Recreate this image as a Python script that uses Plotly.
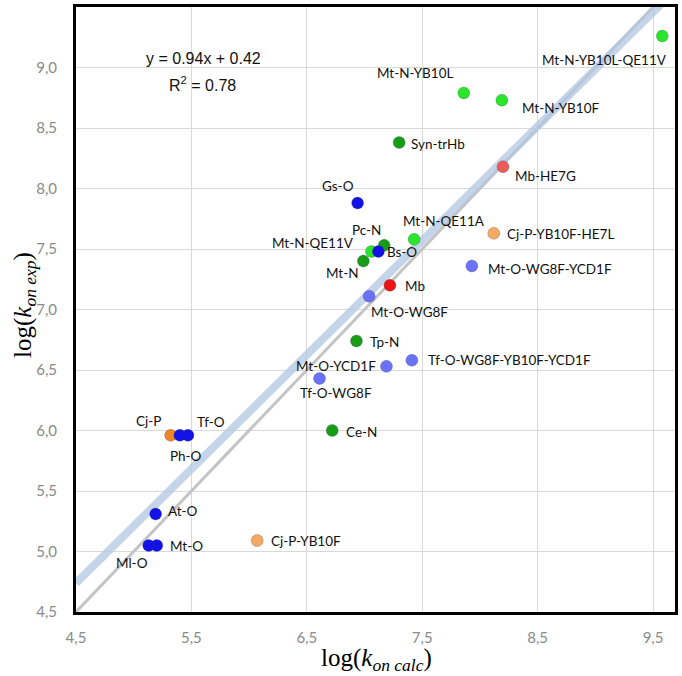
import plotly.graph_objects as go

# ---- data ----
names = ["Mt-N-YB10L-QE11V", "Mt-N-YB10L", "Mt-N-YB10F", "Syn-trHb", "Mb-HE7G",
         "Gs-O", "Mt-N-QE11A", "Cj-P-YB10F-HE7L", "Pc-N", "Mt-N-QE11V", "Bs-O",
         "Mt-N", "Mt-O-WG8F-YCD1F", "Mb", "Mt-O-WG8F", "Tp-N",
         "Tf-O-WG8F-YB10F-YCD1F", "Mt-O-YCD1F", "Tf-O-WG8F", "Ce-N", "Cj-P",
         "Tf-O", "Ph-O", "At-O", "Mt-O", "Ml-O", "Cj-P-YB10F"]
log_kon_calc = [9.58, 7.86, 8.19, 7.30, 8.20,
                6.94, 7.43, 8.12, 7.17, 7.06, 7.12,
                6.99, 7.93, 7.22, 7.04, 6.93,
                7.41, 7.19, 6.61, 6.72, 5.32,
                5.47, 5.40, 5.19, 5.20, 5.13, 6.07]
log_kon_exp = [9.26, 8.79, 8.73, 8.38, 8.18,
               7.88, 7.58, 7.63, 7.53, 7.48, 7.48,
               7.40, 7.36, 7.20, 7.11, 6.74,
               6.58, 6.53, 6.43, 6.00, 5.96,
               5.96, 5.96, 5.31, 5.05, 5.05, 5.09]
groups = ["N-mut", "N-mut", "N-mut", "N", "Mb-mut",
          "O", "N-mut", "P-mut", "N", "N-mut", "O",
          "N", "O-mut", "Mb", "O-mut", "N",
          "O-mut", "O-mut", "O-mut", "N", "P",
          "O", "O", "O", "O", "O", "P-mut"]

trend_slope = 0.944
trend_intercept = 0.49
eq_text = "y = 0.94x + 0.42"
r2_text = "R<sup>2</sup> = 0.78"
x_title = "log(<i>k</i><sub><i>on calc</i></sub>)"
y_title = "log(<i>k</i><sub><i>on exp</i></sub>)"

x_ticks = [4.5, 5.5, 6.5, 7.5, 8.5, 9.5]
x_ticktext = ["4,5", "5,5", "6,5", "7,5", "8,5", "9,5"]
y_ticks = [4.5, 5.0, 5.5, 6.0, 6.5, 7.0, 7.5, 8.0, 8.5, 9.0, 9.5]
y_ticktext = ["4,5", "5,0", "5,5", "6,0", "6,5", "7,0", "7,5", "8,0", "8,5", "9,0", "9,5"]

# ---- styles ----
group_colors = {
    "O": "#1212e6", "O-mut": "#6a72f6",
    "N": "#179c17", "N-mut": "#2ae62a",
    "Mb": "#ee1414", "Mb-mut": "#ef5a5a",
    "P": "#f08526", "P-mut": "#f5aa62",
}
# (xanchor, dx px, dy px screen-down) for each label
label_style = [
    ("center", -58, 24), ("center", -49, -20), ("left", 18, 8), ("left", 10, 1), ("left", 10, 9),
    ("center", -20, -17), ("center", 30, -18), ("left", 11, 1), ("center", -18, -15), ("right", -15, -8), ("left", 7, 1),
    ("center", -21, 12), ("left", 14, 3), ("left", 13, 1), ("center", 40, 16), ("left", 12, 1),
    ("left", 14, 0), ("right", -8, 0), ("center", 16, 15), ("left", 12, 1), ("center", -22, -14),
    ("center", 23, -13), ("center", 6, 21), ("left", 10, -3), ("left", 11, 1), ("center", -17, 18), ("left", 12, 0),
]

X_RANGE = [4.5, 9.69]
Y_RANGE = [4.5, 9.5]
FW, FH = 682, 676
ML, MR, MT, MB = 76, 7, 7, 64
PW, PH = FW - ML - MR, FH - MT - MB

fig = go.Figure()

fig.add_trace(go.Scatter(x=X_RANGE, y=X_RANGE, mode="lines",
                         line=dict(color="#c4c4c4", width=3), hoverinfo="skip", showlegend=False))
fig.add_trace(go.Scatter(x=X_RANGE, y=[trend_slope * v + trend_intercept for v in X_RANGE],
                         mode="lines", line=dict(color="rgba(176,198,226,0.75)", width=8),
                         hoverinfo="skip", showlegend=False))

fig.add_trace(go.Scatter(
    x=log_kon_calc, y=log_kon_exp, mode="markers", text=names,
    marker=dict(size=12, color=[group_colors[g] for g in groups],
                line=dict(width=0.6, color="rgba(60,60,90,0.45)")),
    showlegend=False, cliponaxis=False))

for n, xv, yv, (anc, dx, dy) in zip(names, log_kon_calc, log_kon_exp, label_style):
    fig.add_annotation(x=xv, y=yv, text=n, showarrow=False, xanchor=anc, yanchor="middle",
                       xshift=dx, yshift=-dy, font=dict(family="Lato", size=13.5, color="#111111"))

def px_to_paper(px, py):
    return (px - ML) / PW, (FH - MB - py) / PH

ex, ey = px_to_paper(203, 59)
fig.add_annotation(xref="paper", yref="paper", x=ex, y=ey, text=eq_text, showarrow=False,
                   xanchor="center", yanchor="middle",
                   font=dict(family="Liberation Sans", size=16, color="#111111"))
rx, ry = px_to_paper(202, 84)
fig.add_annotation(xref="paper", yref="paper", x=rx, y=ry, text=r2_text, showarrow=False,
                   xanchor="center", yanchor="middle",
                   font=dict(family="Liberation Sans", size=16, color="#111111"))

tx, ty = px_to_paper(376, 659)
fig.add_annotation(xref="paper", yref="paper", x=tx, y=ty, text=x_title, showarrow=False,
                   xanchor="center", yanchor="middle",
                   font=dict(family="Liberation Serif", size=25, color="black"))
yx, yy = px_to_paper(24, 305)
fig.add_annotation(xref="paper", yref="paper", x=yx, y=yy, text=y_title, showarrow=False,
                   xanchor="center", yanchor="middle", textangle=-90,
                   font=dict(family="Liberation Serif", size=25, color="black"))

fig.update_layout(
    width=FW, height=FH,
    margin=dict(l=ML, r=MR, t=MT, b=MB, autoexpand=False),
    paper_bgcolor="white", plot_bgcolor="white",
    xaxis=dict(range=X_RANGE, tickvals=x_ticks, ticktext=x_ticktext, automargin=False,
               showgrid=True, gridcolor="#d9d9d9", gridwidth=1, zeroline=False,
               showline=True, linecolor="black", linewidth=3, mirror=True,
               ticks="", ticklabelstandoff=10,
               tickfont=dict(family="Lato", size=15, color="#8a8a8a")),
    yaxis=dict(range=Y_RANGE, tickvals=y_ticks, ticktext=y_ticktext, automargin=False,
               showgrid=True, gridcolor="#d9d9d9", gridwidth=1, zeroline=False,
               showline=True, linecolor="black", linewidth=3, mirror=True,
               ticks="", ticklabelstandoff=13,
               tickfont=dict(family="Lato", size=15, color="#8a8a8a")),
)

fig.write_html("out.html", config={"displayModeBar": False},
               post_script="document.body.style.margin='0';document.body.style.overflow='hidden';")
